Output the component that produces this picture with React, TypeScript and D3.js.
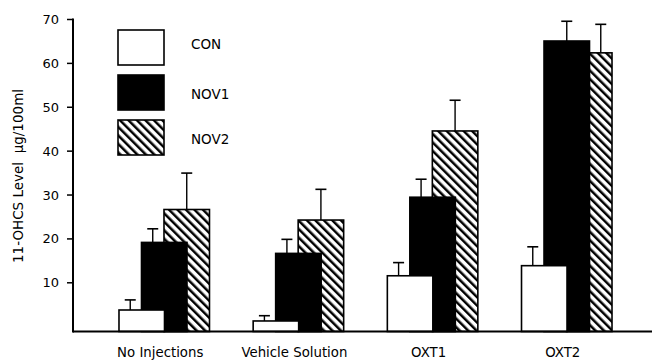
import * as d3 from "d3";
import React, { useEffect, useRef } from "react";

const categories = ["No Injections", "Vehicle Solution", "OXT1", "OXT2"];
const seriesNames = ["CON", "NOV1", "NOV2"];
const conValues = [3.8, 1.3, 11.6, 13.9];
const nov1Values = [19.2, 16.7, 29.5, 65.1];
const nov2Values = [26.7, 24.3, 44.6, 62.4];
const conErr = [2.3, 1.2, 3.0, 4.3];
const nov1Err = [3.1, 3.2, 4.1, 4.5];
const nov2Err = [8.3, 7.0, 7.0, 6.5];
const yTicks = [10, 20, 30, 40, 50, 60, 70];

const W = 654;
const H = 360;
const FONT = "'DejaVu Sans', sans-serif";

const App = () => {
  const chartRef = useRef(null);

  useEffect(() => {
    if (chartRef.current) {
      drawChart();
    }
  }, []);

  const drawChart = () => {
    const svg = d3.select(chartRef.current).attr("width", W).attr("height", H);
    svg.selectAll("*").remove();

    const left = 73;
    const baseY = 331.5;

    const defs = svg.append("defs");
    const pat = defs
      .append("pattern")
      .attr("id", "hatch")
      .attr("patternUnits", "userSpaceOnUse")
      .attr("width", 6)
      .attr("height", 6)
      .attr("patternTransform", "rotate(-45)");
    pat.append("rect").attr("width", 6).attr("height", 6).attr("fill", "white");
    pat
      .append("rect")
      .attr("x", 0)
      .attr("width", 2.5)
      .attr("height", 6)
      .attr("fill", "black");

    const x = d3.scalePoint().domain(categories).range([left, 658]).padding(0.68);
    const y = d3.scaleLinear().domain([-1.1, 70]).range([baseY, 19.5]);

    const barW = 45.5;
    const stepW = 22.5;
    const fills = ["white", "black", "url(#hatch)"];
    const values = [conValues, nov1Values, nov2Values];
    const errs = [conErr, nov1Err, nov2Err];

    // bars: back to front -> NOV2, NOV1, CON
    categories.forEach((cat, gi) => {
      const c = x(cat);
      const lefts = [0, 1, 2].map((si) => c - (barW + 2 * stepW) / 2 + si * stepW);
      [2, 1, 0].forEach((si) => {
        const v = values[si][gi];
        svg
          .append("rect")
          .attr("x", lefts[si])
          .attr("y", y(v))
          .attr("width", barW)
          .attr("height", y(-1.1) - y(v))
          .attr("fill", fills[si])
          .attr("stroke", "black")
          .attr("stroke-width", 1.6);
      });
      // error bars at centre of the unshadowed part of each bar top
      [0, 1, 2].forEach((si) => {
        const v = values[si][gi];
        let a = lefts[si];
        let b = lefts[si] + barW;
        if (si < 2 && values[si + 1][gi] > v) b = lefts[si + 1];
        if (si > 0 && values[si - 1][gi] > v) a = lefts[si - 1] + barW;
        const ex = (a + b) / 2;
        const top = y(v + errs[si][gi]);
        svg
          .append("line")
          .attr("x1", ex)
          .attr("x2", ex)
          .attr("y1", y(v))
          .attr("y2", top)
          .attr("stroke", "black")
          .attr("stroke-width", 1.4);
        svg
          .append("line")
          .attr("x1", ex - 5.5)
          .attr("x2", ex + 5.5)
          .attr("y1", top)
          .attr("y2", top)
          .attr("stroke", "black")
          .attr("stroke-width", 1.6);
      });
    });

    // axes
    svg
      .append("line")
      .attr("x1", left)
      .attr("x2", 652)
      .attr("y1", baseY)
      .attr("y2", baseY)
      .attr("stroke", "black")
      .attr("stroke-width", 2);
    svg
      .append("line")
      .attr("x1", left)
      .attr("x2", left)
      .attr("y1", y(70) - 1)
      .attr("y2", baseY + 1)
      .attr("stroke", "black")
      .attr("stroke-width", 2);

    const tick = svg.selectAll(".tick").data(yTicks).enter().append("g");
    tick
      .append("line")
      .attr("x1", left - 6)
      .attr("x2", left)
      .attr("y1", (d) => y(d))
      .attr("y2", (d) => y(d))
      .attr("stroke", "black")
      .attr("stroke-width", 1.5);
    tick
      .append("text")
      .attr("x", left - 14)
      .attr("y", (d) => y(d))
      .attr("dy", "0.35em")
      .attr("text-anchor", "end")
      .attr("font-family", FONT)
      .attr("font-size", 13)
      .text((d) => d);

    svg
      .selectAll(".cat")
      .data(categories)
      .enter()
      .append("text")
      .attr("x", (d) => x(d) - 4)
      .attr("y", 357)
      .attr("text-anchor", "middle")
      .attr("font-family", FONT)
      .attr("font-size", 13.3)
      .text((d) => d);

    svg
      .append("text")
      .attr("transform", "translate(23,176) rotate(-90)")
      .attr("text-anchor", "middle")
      .attr("font-family", FONT)
      .attr("font-size", 13.5)
      .attr("xml:space", "preserve")
      .text("11-OHCS Level  µg/100ml");

    // legend
    const leg = svg
      .selectAll(".leg")
      .data(seriesNames)
      .enter()
      .append("g")
      .attr("transform", (d, i) => `translate(118,${30 + i * 45})`);
    leg
      .append("rect")
      .attr("width", 46)
      .attr("height", 35)
      .attr("fill", (d, i) => fills[i])
      .attr("stroke", "black")
      .attr("stroke-width", 1.6);
    leg
      .append("text")
      .attr("x", 73)
      .attr("y", (d, i) => (i === 0 ? 14.5 : 19))
      .attr("dy", "0.35em")
      .attr("font-family", FONT)
      .attr("font-size", 13.5)
      .text((d) => d);
  };

  return <svg ref={chartRef} style={{ position: "absolute", left: 0, top: 0, background: "white" }} />;
};

export default App;
